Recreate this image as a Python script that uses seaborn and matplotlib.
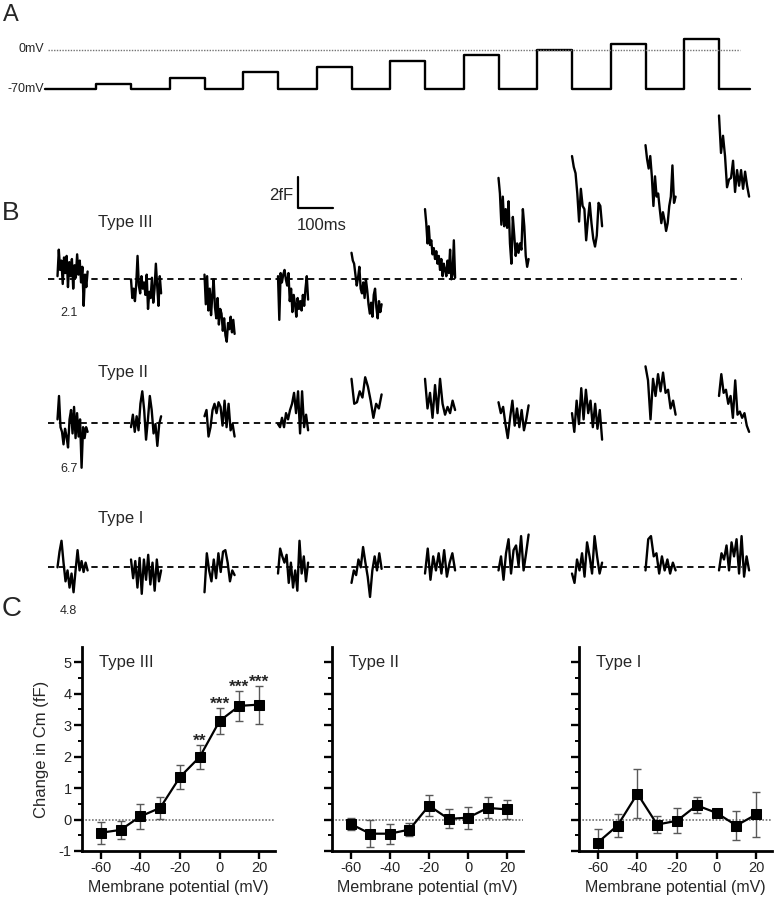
"""
Capacitance steps vs membrane potential: protocol (A), example traces (B)
and mean +/- SEM summary for the three cell types (C).
"""
import numpy as np
import pandas as pd
import matplotlib
matplotlib.use("Agg")
import matplotlib.pyplot as plt
import seaborn as sns

# Panel A: voltage protocol (mV)
HOLD_MV = -70
PULSE_MV = [-60, -50, -40, -30, -20, -10, 0, 10, 20]

# Panel B: Cm traces after each pulse (fF, relative to the pre-pulse baseline)
TYPE3_TRACES = [
    [0.2, 1.9, 0.6, 1.2, -0.3, 1.4, 0.4, 1.5, -0.5, 1.1, 0.2, 1.3, -0.6, 0.9, 0.1, 1.6, 0.3, 1.2, -0.2, 0.8, -1.7, 0.3, -0.5, 0.5],
    [0.0, -1.2, -0.6, -1.4, -0.3, 1.5, -0.4, -0.9, 0.2, -0.6, -0.2, -1.0, 0.3, -1.9, -0.8, -1.2, 0.1, -1.5, -0.6, 1.0, -0.4, -1.7, 0.2, -0.9],
    [0.3, -1.6, 0.2, -2.0, -0.6, -2.3, -1.0, 0.0, -1.8, -2.5, -1.2, -2.9, -1.9, -2.2, -3.3, -2.5, -3.6, -4.0, -2.8, -3.2, -2.4, -3.4, -2.6, -3.5],
    [0.2, -2.6, 0.4, -0.2, 0.3, 0.6, 0.0, -0.4, 0.4, -1.4, -0.6, -2.1, -1.0, -1.6, -2.4, -1.2, -1.9, -1.4, -2.0, -1.0, -1.7, -0.6, 0.2, -1.3],
    [1.7, 1.2, 1.0, 0.3, -0.4, 0.1, 0.8, -0.6, -0.9, -0.2, -1.2, 0.0, -0.7, -1.6, -2.2, -1.5, -2.4, -1.0, -0.6, -1.8, -2.5, -1.4, -2.1, -1.6],
    [4.5, 3.6, 2.3, 3.4, 2.2, 2.5, 1.6, 2.0, 1.3, 1.8, 1.0, 1.5, 0.6, 1.3, 0.2, 1.0, 0.6, 0.2, 1.2, 0.4, 1.9, 0.0, 0.3, 2.5, 0.1],
    [6.5, 5.5, 3.5, 5.3, 3.4, 4.5, 3.3, 5.0, 2.3, 1.0, 4.0, 2.8, 1.5, 2.3, 1.7, 2.3, 1.9, 4.5, 3.4, 1.5, 0.8, 1.3],
    [7.9, 7.2, 6.8, 5.5, 3.7, 5.8, 4.7, 4.5, 2.5, 3.8, 4.9, 3.6, 2.6, 2.1, 2.8, 4.9, 4.7, 3.4],
    [8.6, 7.7, 7.1, 7.9, 6.6, 4.7, 6.6, 5.3, 5.5, 4.5, 3.6, 4.3, 3.8, 3.1, 3.6, 4.7, 5.3, 7.3, 4.9, 5.3],
    [10.5, 8.1, 9.2, 7.9, 5.9, 6.4, 6.5, 7.6, 5.6, 7.0, 6.0, 7.0, 5.8, 6.9, 6.0, 5.3],
]
TYPE2_TRACES = [
    [0.2, 1.7, -0.3, -0.6, -1.4, -0.4, -0.9, -1.6, 0.2, 0.8, -0.7, 1.0, -1.0, 0.6, -0.9, 0.2, -2.9, -0.3, -1.0, -0.3, -0.6],
    [-0.3, 0.5, -0.6, 0.4, -0.5, 1.2, 2.0, 0.8, -1.1, 0.2, 1.7, 0.8, -0.7, -0.1, -1.5, -0.1, 0.4],
    [0.4, 0.8, -0.9, -0.3, 0.8, 1.2, 0.6, 1.3, 1.0, -0.2, 1.4, -0.3, 1.2, -0.5, -0.1, -0.9],
    [-0.1, -0.3, 0.3, -0.3, 0.6, 0.2, 0.8, 1.2, 1.9, 0.6, 2.0, -0.7, 2.0, -0.3, 0.5, -0.5],
    [2.8, 1.2, 1.3, 2.0, 1.6, 2.9, 2.3, 1.4, 0.3, 1.2, 0.9, 1.8],
    [2.8, 0.9, 1.9, 0.3, 2.4, 0.6, 2.8, 1.2, 0.5, 1.0, 0.6, 1.4, 0.8],
    [1.3, 0.6, 1.0, -0.1, -1.0, 0.3, 1.4, -0.2, 0.9, -0.3, 0.8, -0.5, 0.2, 1.1],
    [0.6, -0.6, 1.4, -0.1, 2.2, 0.2, 2.1, 0.6, 1.4, -0.3, 1.2, -0.4, 0.8, -1.1],
    [3.6, 2.7, 0.2, 2.8, 1.7, 3.1, 2.0, 3.2, 1.9, 2.1, 0.9, 1.4, 0.5],
    [1.7, 3.1, 1.9, 2.1, 1.2, 1.7, 0.3, 2.7, 0.5, 0.7, 0.3, 0.6, -0.2, -0.6],
]
TYPE1_TRACES = [
    [0.0, 1.0, 1.7, 0.3, -0.9, -0.2, -1.3, -0.4, -1.6, -0.2, 1.1, -0.2, 0.4, -0.3, 0.3, -0.2],
    [0.5, -0.7, 0.4, -1.3, 0.6, -1.7, 0.5, -0.8, 0.8, -1.1, 0.3, -1.5, 0.5, -0.9, -0.2],
    [-1.6, 0.9, -0.2, -0.9, 0.5, -0.7, 0.9, -0.3, 1.0, 1.1, 0.3, -0.9, -0.2, -0.5],
    [-0.4, 1.2, 0.7, 0.3, 0.8, -1.0, 0.3, -1.3, -0.2, -1.5, 1.7, -0.4, 0.7, -0.9, 0.3],
    [-1.0, -0.2, -0.5, 0.5, 0.0, 1.3, 0.3, -0.6, -1.9, -0.2, 0.7, -0.2, 0.9, -0.1],
    [-0.4, 1.2, -0.8, 0.7, -0.2, 0.9, -0.4, 1.1, -0.6, 0.3, 0.9, -0.2],
    [-0.2, 0.7, -0.8, 0.9, 1.8, -0.4, 1.1, 1.4, 0.1, 2.0, -0.2, 0.9, 2.1],
    [-0.4, -1.0, 0.5, -0.2, 0.9, -0.6, 1.6, 0.7, -0.4, 2.0, 0.7, -0.4, 0.3],
    [-0.2, 1.8, 2.0, 0.7, 0.9, -0.4, 0.7, -0.2, 0.5, -0.4, 0.3, -0.2],
    [-0.2, 0.9, 0.5, 1.4, -0.2, 1.6, 0.7, 1.8, -0.4, 2.0, -0.6, 0.7, -0.2],
]
ROW_NAMES = ["Type III", "Type II", "Type I"]
ROW_NUMBERS = ["2.1", "6.7", "4.8"]

# Panel C: mean change in Cm (fF) +/- SEM
VM = [-60, -50, -40, -30, -20, -10, 0, 10, 20]
TYPE3_MEAN = [-0.42, -0.33, 0.10, 0.37, 1.35, 1.99, 3.13, 3.61, 3.65]
TYPE3_SEM = [0.35, 0.28, 0.40, 0.36, 0.37, 0.37, 0.40, 0.48, 0.60]
TYPE3_STARS = ["", "", "", "", "", "**", "***", "***", "***"]
TYPE2_MEAN = [-0.14, -0.45, -0.45, -0.32, 0.44, 0.02, 0.06, 0.37, 0.32]
TYPE2_SEM = [0.19, 0.43, 0.32, 0.20, 0.33, 0.30, 0.35, 0.33, 0.30]
TYPE1_MEAN = [-0.73, -0.19, 0.82, -0.16, -0.04, 0.45, 0.21, -0.19, 0.16]
TYPE1_SEM = [0.44, 0.35, 0.78, 0.28, 0.40, 0.25, 0.05, 0.47, 0.72]

# layout (figure pixels)
W, H = 774, 899
T0_PX = 57.5          # pixel where the first sweep starts
PX_PER_MS = 0.35
PX_PER_FF = 15.6
PERIOD_MS, PULSE_MS, TRACE_MS = 210, 100, 86


def box(x0, y0, x1, y1):
    return [x0 / W, 1 - y1 / H, (x1 - x0) / W, (y1 - y0) / H]


def ms(px):
    return (px - T0_PX) / PX_PER_MS


def px_text(x, y, s, **kw):
    fig.text(x / W, 1 - y / H, s, **kw)


def traces_frame(traces):
    parts = []
    for k, vals in enumerate(traces):
        t = k * PERIOD_MS + np.linspace(0, TRACE_MS, len(vals))
        parts.append(pd.DataFrame({"t": t, "cm": vals, "sweep": k}))
    return pd.concat(parts, ignore_index=True)


sns.set_theme(style="ticks")
plt.rcParams["font.family"] = ["Liberation Sans", "DejaVu Sans"]
plt.rcParams["axes.unicode_minus"] = False

fig = plt.figure(figsize=(W / 100, H / 100), dpi=100)

# ---- A: protocol ----
axA = fig.add_axes(box(0, 30, W, 100))
t_wave, v_wave = [ms(45)], [HOLD_MV]
for i, v in enumerate(PULSE_MV):
    t_off = (i + 1) * PERIOD_MS
    t_on = t_off - PULSE_MS
    t_wave += [t_on, t_on, t_off, t_off]
    v_wave += [HOLD_MV, v, v, HOLD_MV]
t_wave.append(ms(750))
v_wave.append(HOLD_MV)
sns.lineplot(x=t_wave, y=v_wave, sort=False, estimator=None, color="black",
             lw=1.7, ax=axA)
axA.plot([ms(48), ms(740)], [0, 0], color="0.45", ls=(0, (1, 1)), lw=1.0)
axA.set_xlim(ms(0), ms(W))
axA.set_ylim(HOLD_MV - (100 - 89.3) / 0.564, HOLD_MV + (89.3 - 30) / 0.564)
axA.axis("off")
px_text(44, 49.5, "0mV", ha="right", va="center", fontsize=9)
px_text(44, 89.5, "-70mV", ha="right", va="center", fontsize=9)

# ---- B: example traces ----
rows = [(110, 350, 279.3), (350, 490, 422.5), (490, 620, 567.3)]
label_y = [222, 372, 518]
number_y = [313, 469, 611]
for (y0, y1, base), traces, name, ly, num, ny in zip(
        rows, [TYPE3_TRACES, TYPE2_TRACES, TYPE1_TRACES], ROW_NAMES,
        label_y, ROW_NUMBERS, number_y):
    ax = fig.add_axes(box(0, y0, W, y1))
    ax.plot([ms(48), ms(742)], [0, 0], color="black", ls=(0, (3.5, 2.5)), lw=1.3)
    sns.lineplot(data=traces_frame(traces), x="t", y="cm", units="sweep",
                 estimator=None, color="black", lw=1.7, ax=ax)
    ax.set_xlim(ms(0), ms(W))
    ax.set_ylim((base - y1) / PX_PER_FF, (base - y0) / PX_PER_FF)
    ax.axis("off")
    px_text(98, ly, name, ha="left", va="center", fontsize=12)
    px_text(60, ny, num, ha="left", va="center", fontsize=9)
    if name == "Type III":
        top = (base - 176.7) / PX_PER_FF
        ax.plot([ms(298), ms(298), ms(333)], [top, top - 2, top - 2],
                color="black", lw=1.6)
        px_text(293, 196, "2fF", ha="right", va="center", fontsize=12)
        px_text(322, 225, "100ms", ha="center", va="center", fontsize=12)

# ---- C: summary ----
panels = [(82, 275, "Type III", TYPE3_MEAN, TYPE3_SEM, TYPE3_STARS),
          (332, 523, "Type II", TYPE2_MEAN, TYPE2_SEM, None),
          (579, 772, "Type I", TYPE1_MEAN, TYPE1_SEM, None)]
for j, (x0, x1, name, mean, sem, stars) in enumerate(panels):
    ax = fig.add_axes(box(x0, 647, x1, 851))
    ax.axhline(0, color="0.45", ls=(0, (1, 1)), lw=1.2, zorder=1)
    ax.errorbar(VM, mean, yerr=sem, fmt="none", ecolor="0.35", elinewidth=1.0,
                capsize=3, capthick=1.0, zorder=2)
    sns.lineplot(x=VM, y=mean, ax=ax, color="black", lw=1.6, marker="s",
                 markersize=7.5, markeredgecolor="black", zorder=3)
    if stars:
        for x, m, s, st in zip(VM, mean, sem, stars):
            if st:
                ax.text(x, m + s - 0.02, st, ha="center", va="baseline",
                        fontsize=12.5, fontweight="bold")
    ax.text(-61, 5.0, name, ha="left", va="center", fontsize=12)
    ax.set_xlim(-69.5, 28)
    ax.set_ylim(-1, 5.48)
    ax.set_xticks(VM[::2])
    ax.set_yticks(range(-1, 6))
    ax.set_yticks(np.arange(-0.5, 5.5, 1), minor=True)
    ax.set_xlabel("Membrane potential (mV)", fontsize=11.5, labelpad=3)
    if j == 0:
        ax.set_ylabel("Change in Cm (fF)", fontsize=12, labelpad=7)
    else:
        ax.set_yticklabels([])
    ax.tick_params(axis="both", which="major", length=5.5, width=1.7,
                   labelsize=10.5, color="black", pad=2)
    ax.tick_params(axis="y", which="minor", length=3, width=1.4, color="black")
    for side in ("left", "bottom"):
        ax.spines[side].set_linewidth(2.0)
        ax.spines[side].set_color("black")
    sns.despine(ax=ax)

px_text(11, 15, "A", ha="center", va="center", fontsize=17)
px_text(11, 213, "B", ha="center", va="center", fontsize=19)
px_text(12, 609, "C", ha="center", va="center", fontsize=20)

fig.savefig("out.png", dpi=100, facecolor="white")
